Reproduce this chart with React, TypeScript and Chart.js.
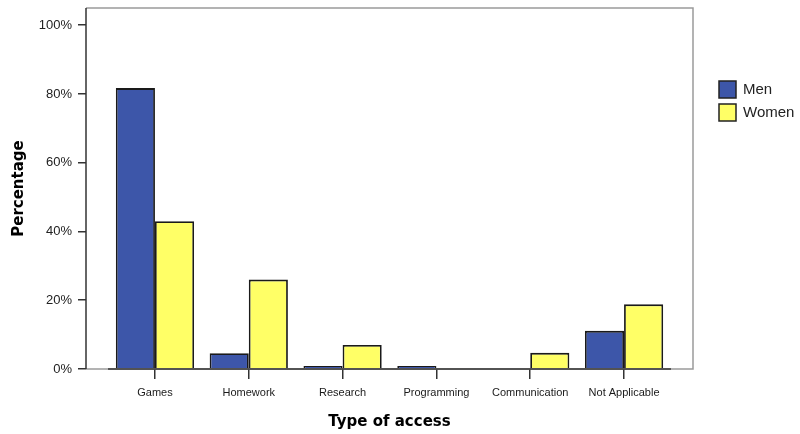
import React, { useEffect, useRef } from "react";
import { Chart, registerables } from "chart.js";

Chart.register(...registerables);

const categories = ["Games", "Homework", "Research", "Programming", "Communication", "Not Applicable"];
const seriesNames = ["Men", "Women"];
const menValues = [81.7, 4.6, 0.9, 0.9, 0.2, 11.1];
const womenValues = [43.0, 26.0, 7.0, 0.3, 4.7, 18.8];
const yTickValues = [0, 20, 40, 60, 80, 100];
const seriesColors = ["#3D56A9", "#FFFF66"];

const framePlugin = {
  id: "frame",
  afterDraw(chart: any) {
    const { ctx, chartArea } = chart;
    const xs = chart.scales.x;
    ctx.save();
    ctx.strokeStyle = "#9a9a9a";
    ctx.lineWidth = 1.5;
    ctx.beginPath();
    ctx.moveTo(chartArea.left, chartArea.top);
    ctx.lineTo(chartArea.right, chartArea.top);
    ctx.lineTo(chartArea.right, chartArea.bottom);
    ctx.lineTo(chartArea.left, chartArea.bottom);
    ctx.stroke();
    // dark category baseline
    ctx.strokeStyle = "#333";
    ctx.lineWidth = 1.5;
    ctx.beginPath();
    ctx.moveTo(xs.getPixelForValue(-0.5), chartArea.bottom);
    ctx.lineTo(xs.getPixelForValue(categories.length - 0.5), chartArea.bottom);
    ctx.stroke();
    // left axis
    ctx.beginPath();
    ctx.moveTo(chartArea.left, chartArea.top);
    ctx.lineTo(chartArea.left, chartArea.bottom);
    ctx.stroke();
    // legend
    const lx = chartArea.right + 26;
    seriesNames.forEach((name, i) => {
      const ly = 81 + i * 23;
      ctx.fillStyle = seriesColors[i];
      ctx.fillRect(lx, ly, 17, 17);
      ctx.strokeStyle = "#222";
      ctx.lineWidth = 1.5;
      ctx.strokeRect(lx, ly, 17, 17);
      ctx.fillStyle = "#222";
      ctx.font = "15px 'Liberation Sans', Arial, sans-serif";
      ctx.textBaseline = "middle";
      ctx.textAlign = "left";
      ctx.fillText(name, lx + 24, ly + 9);
    });
    ctx.restore();
  },
};

export default function App() {
  const ref = useRef<HTMLCanvasElement>(null);
  useEffect(() => {
    if (!ref.current) return;
    const chart = new Chart(ref.current, {
      type: "bar",
      data: {
        datasets: [
          {
            label: seriesNames[0],
            data: categories.map((_, i) => ({ x: i, y: menValues[i] })),
            backgroundColor: seriesColors[0],
            borderColor: "#1a1a1a",
            borderWidth: 1.8,
            borderSkipped: "bottom",
          },
          {
            label: seriesNames[1],
            data: categories.map((_, i) => ({ x: i, y: womenValues[i] })),
            backgroundColor: seriesColors[1],
            borderColor: "#1a1a1a",
            borderWidth: 1.8,
            borderSkipped: "bottom",
          },
        ],
      },
      options: {
        animation: false,
        responsive: true,
        maintainAspectRatio: false,
        categoryPercentage: 0.834,
        barPercentage: 1,
        layout: { padding: { top: 8, right: 107, left: 0, bottom: 0 } },
        plugins: { legend: { display: false }, tooltip: { enabled: false } },
        scales: {
          x: {
            type: "linear",
            offset: false,
            min: -0.735,
            max: 5.735,
            afterBuildTicks: (s: any) => {
              s.ticks = categories.map((_, i) => ({ value: i }));
            },
            afterFit: (s: any) => {
              s.height = 65;
              s.paddingLeft = 0;
              s.paddingRight = 0;
            },
            ticks: {
              callback: (v: any) => categories[v as number] ?? "",
              font: { family: "'Liberation Sans', Arial, sans-serif", size: 11 },
              color: "#1a1a1a",
              padding: 7,
              maxRotation: 0,
              autoSkip: false,
            },
            grid: { offset: false, drawOnChartArea: false, drawTicks: true, tickLength: 10, tickColor: "#333", lineWidth: 1.5 },
            border: { display: false },
            title: {
              display: true,
              text: "Type of access",
              font: { family: "'DejaVu Sans', sans-serif", size: 15, weight: "bold" },
              color: "#000",
              padding: { top: 0, bottom: 3 },
            },
          },
          y: {
            min: 0,
            max: 105,
            afterBuildTicks: (s: any) => {
              s.ticks = yTickValues.map((v) => ({ value: v }));
            },
            afterFit: (s: any) => {
              s.width = 86;
              s.paddingTop = 0;
              s.paddingBottom = 0;
            },
            ticks: {
              callback: (v: any) => v + "%",
              font: { family: "'Liberation Sans', Arial, sans-serif", size: 13 },
              color: "#222",
              padding: 6,
            },
            grid: { drawOnChartArea: false, drawTicks: true, tickLength: 8, tickColor: "#333", lineWidth: 1.5 },
            border: { display: false },
            title: {
              display: true,
              text: "Percentage",
              font: { family: "'DejaVu Sans', sans-serif", size: 15, weight: "bold" },
              color: "#000",
              padding: { top: 10, bottom: 0 },
            },
          },
        },
      },
      plugins: [framePlugin],
    });
    return () => chart.destroy();
  }, []);
  return (
    <div style={{ position: "fixed", left: 0, top: 0, width: 800, height: 434, background: "#fff" }}>
      <canvas ref={ref} />
    </div>
  );
}
